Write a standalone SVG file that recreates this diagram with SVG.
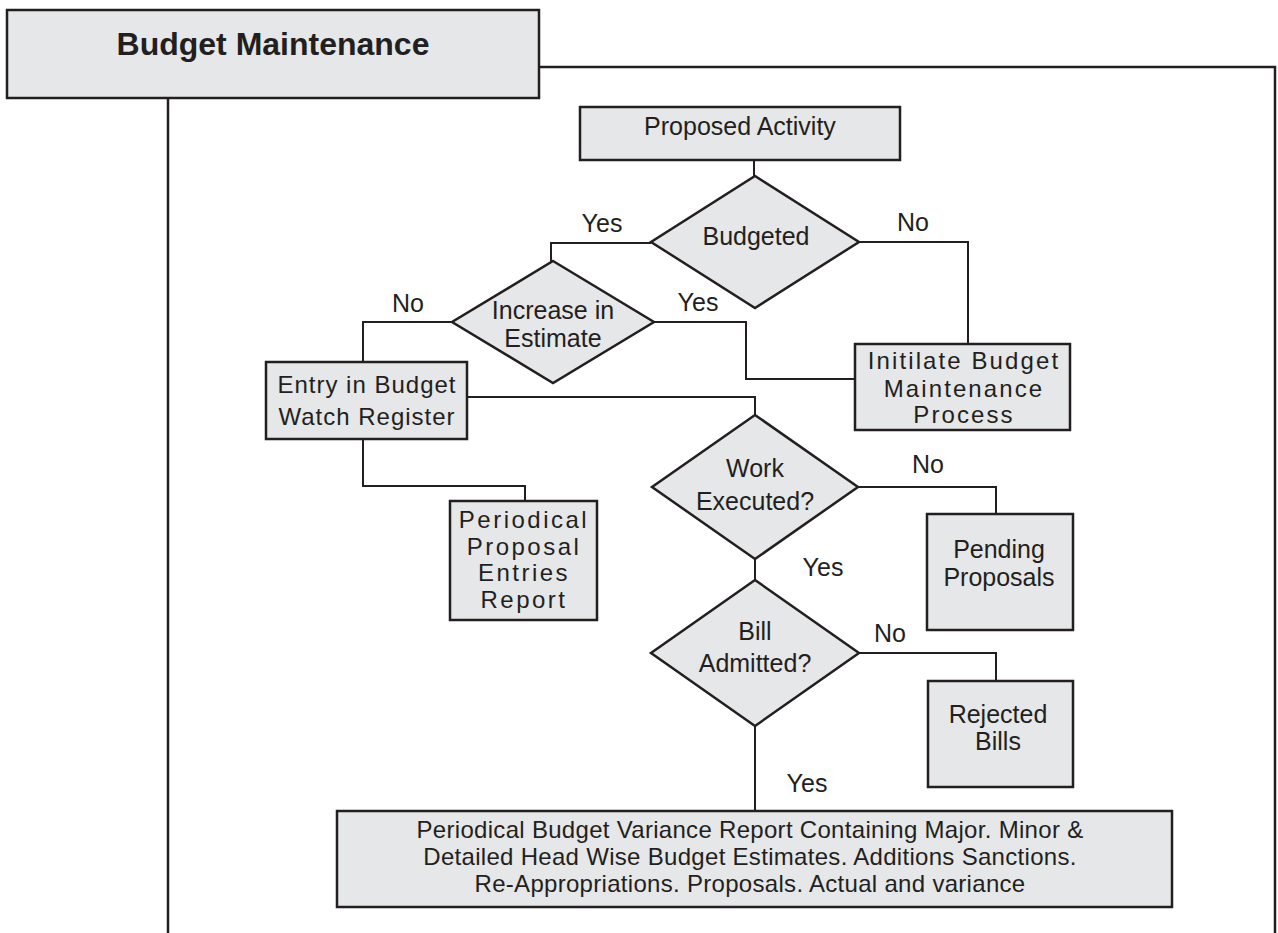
<svg xmlns="http://www.w3.org/2000/svg" width="1278" height="933" viewBox="0 0 1278 933">
<style>
  .box { fill: #e6e7e8; stroke: #231f20; stroke-width: 2.5; }
  .frame { fill: none; stroke: #231f20; stroke-width: 2.5; }
  .conn { fill: none; stroke: #231f20; stroke-width: 2; }
  text { font-family: "Liberation Sans", Arial, Helvetica, sans-serif; fill: #231f20; text-anchor: middle; font-size: 25px; }
  .title { font-weight: bold; font-size: 32px; }
  .sp1 { font-size: 24px; letter-spacing: 1px; }
  .sp2 { font-size: 24px; letter-spacing: 2.1px; }
  .sp3 { font-size: 24px; letter-spacing: 2.5px; }
  .report { font-size: 24px; letter-spacing: 0.3px; }
</style>
<rect width="1278" height="933" fill="#ffffff"/>

<g id="frame">
  <polyline class="frame" points="539,67 1275,67 1275,933"/>
  <line class="frame" x1="168" y1="98" x2="168" y2="933"/>
</g>

<g id="title">
  <rect class="box" x="7" y="10" width="532" height="88"/>
  <text class="title" x="273" y="55">Budget Maintenance</text>
</g>

<g id="connectors">
  <line class="conn" x1="754" y1="160" x2="754" y2="176"/>
  <polyline class="conn" points="651,243 551,243 551,261"/>
  <polyline class="conn" points="859,242 968,242 968,344"/>
  <polyline class="conn" points="452,322 363,322 363,362"/>
  <polyline class="conn" points="654,322 746,322 746,379 855,379"/>
  <polyline class="conn" points="363,439 363,486 525,486 525,501"/>
  <polyline class="conn" points="467,397 755,397 755,415"/>
  <polyline class="conn" points="858,487 996,487 996,514"/>
  <line class="conn" x1="755" y1="559" x2="755" y2="580"/>
  <polyline class="conn" points="859,653 996,653 996,681"/>
  <line class="conn" x1="755" y1="726" x2="755" y2="811"/>
  <g id="labels">
    <text x="602" y="232">Yes</text>
    <text x="913" y="231">No</text>
    <text x="408" y="312">No</text>
    <text x="698" y="311">Yes</text>
    <text x="928" y="473">No</text>
    <text x="823" y="576">Yes</text>
    <text x="890" y="642">No</text>
    <text x="807" y="792">Yes</text>
  </g>
</g>

<g id="proposed-activity">
  <rect class="box" x="580" y="107" width="320" height="53"/>
  <text x="740" y="135">Proposed Activity</text>
</g>

<g id="budgeted">
  <polygon class="box" points="755,176 859,242 755,308 651,242"/>
  <text x="756" y="245">Budgeted</text>
</g>

<g id="increase-in-estimate">
  <polygon class="box" points="553,261 654,322 553,383 452,322"/>
  <text x="553" y="319">Increase in</text>
  <text x="553" y="347">Estimate</text>
</g>

<g id="initiate-budget">
  <rect class="box" x="855" y="344" width="215" height="86"/>
  <text class="sp2" x="964" y="369">Initilate Budget</text>
  <text class="sp2" x="964" y="397">Maintenance</text>
  <text class="sp2" x="964" y="423">Process</text>
</g>

<g id="entry-budget-watch">
  <rect class="box" x="266" y="362" width="201" height="77"/>
  <text class="sp1" x="367" y="393">Entry in Budget</text>
  <text class="sp1" x="367" y="425">Watch Register</text>
</g>

<g id="periodical-proposal">
  <rect class="box" x="450" y="501" width="147" height="119"/>
  <text class="sp3" x="524" y="528">Periodical</text>
  <text class="sp3" x="524" y="555">Proposal</text>
  <text class="sp3" x="524" y="581">Entries</text>
  <text class="sp3" x="524" y="608">Report</text>
</g>

<g id="work-executed">
  <polygon class="box" points="755,415 858,487 755,559 652,487"/>
  <text x="755" y="477">Work</text>
  <text x="755" y="510">Executed?</text>
</g>

<g id="pending-proposals">
  <rect class="box" x="927" y="514" width="146" height="116"/>
  <text x="999" y="558">Pending</text>
  <text x="999" y="586">Proposals</text>
</g>

<g id="bill-admitted">
  <polygon class="box" points="755,580 859,653 755,726 651,653"/>
  <text x="755" y="640">Bill</text>
  <text x="755" y="672">Admitted?</text>
</g>

<g id="rejected-bills">
  <rect class="box" x="928" y="681" width="145" height="106"/>
  <text x="998" y="723">Rejected</text>
  <text x="998" y="750">Bills</text>
</g>

<g id="variance-report">
  <rect class="box" x="337" y="811" width="835" height="96"/>
  <text class="report" x="750" y="838">Periodical Budget Variance Report Containing Major. Minor &amp;</text>
  <text class="report" x="750" y="865">Detailed Head Wise Budget Estimates. Additions Sanctions.</text>
  <text class="report" x="750" y="892">Re-Appropriations. Proposals. Actual and variance</text>
</g>
</svg>
